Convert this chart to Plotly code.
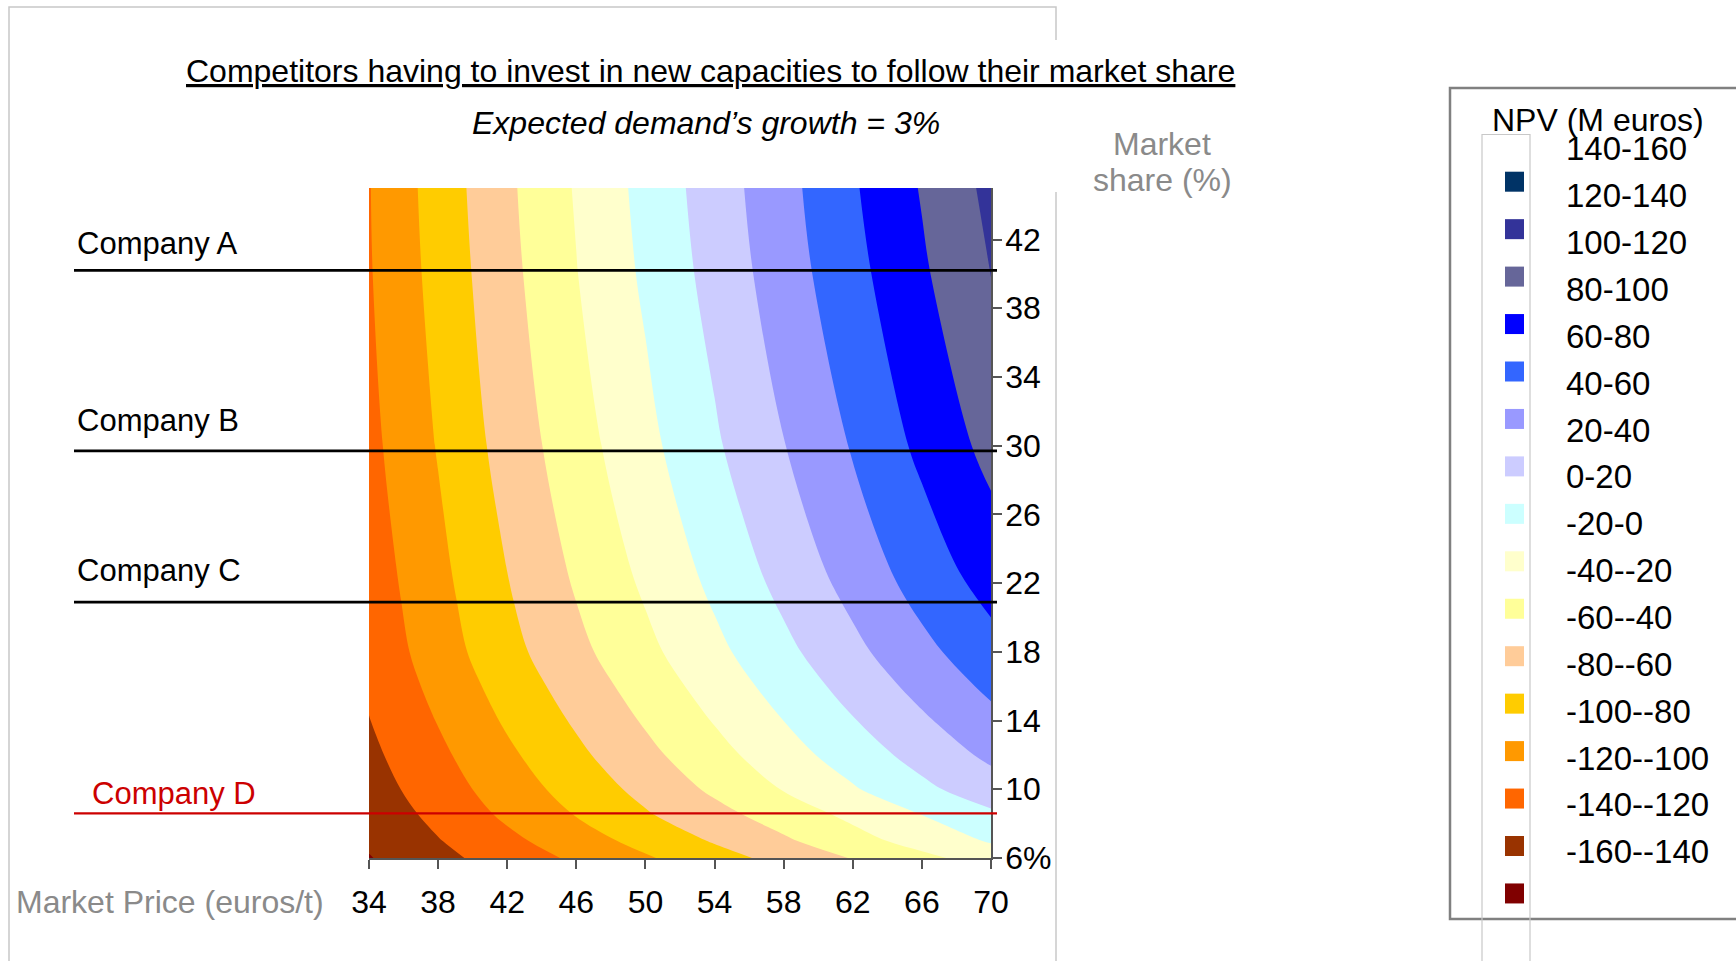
import plotly.graph_objects as go

# Market price (euros/t) along x, market share (%) along y
PRICES = [34, 38, 42, 46, 50, 54, 58, 62, 66, 70]
SHARES = [6, 7, 8.5, 10, 12, 14, 16, 18, 21, 23, 30, 40, 45]

# NPV (M euros) for each market share row, one value per price column
NPV_S06 = [-141.0, -125.5, -111.0, -96.6, -82.2, -67.8, -53.4, -39.0, -25.0, -10.9]
NPV_S07 = [-137.2, -121.0, -104.8, -89.1, -73.6, -58.2, -43.0, -27.3, -12.3, 1.9]
NPV_S085 = [-133.1, -114.8, -96.5, -79.3, -62.1, -46.5, -31.0, -15.5, 0.0, 16.2]
NPV_S10 = [-128.9, -109.5, -90.4, -72.0, -54.2, -36.4, -19.0, -2.0, 15.4, 31.0]
NPV_S12 = [-124.4, -104.2, -83.7, -64.2, -45.2, -26.7, -8.4, 9.7, 27.2, 44.2]
NPV_S14 = [-120.5, -99.1, -77.4, -57.4, -37.9, -18.8, 0.1, 18.9, 37.1, 54.6]
NPV_S16 = [-117.2, -94.3, -71.7, -51.1, -31.2, -11.6, 7.9, 27.3, 46.2, 64.2]
NPV_S18 = [-114.3, -89.9, -66.4, -45.2, -25.0, -5.0, 15.0, 35.0, 54.5, 73.0]
NPV_S21 = [-111.6, -86.6, -62.0, -39.8, -18.9, 2.0, 23.0, 43.7, 64.6, 83.5]
NPV_S23 = [-110.0, -84.6, -59.6, -36.6, -15.2, 6.0, 27.7, 48.9, 70.1, 90.0]
NPV_S30 = [-105.3, -78.8, -52.1, -28.3, -5.6, 17.3, 39.4, 61.6, 84.5, 106.0]
NPV_S40 = [-101.5, -73.3, -45.8, -20.6, 3.3, 26.9, 50.3, 73.7, 97.1, 120.3]
NPV_S45 = [-100.8, -71.3, -43.7, -18.3, 6.1, 29.9, 53.5, 77.7, 101.4, 125.1]

NPV_GRID = [NPV_S06, NPV_S07, NPV_S085, NPV_S10, NPV_S12, NPV_S14, NPV_S16,
            NPV_S18, NPV_S21, NPV_S23, NPV_S30, NPV_S40, NPV_S45]

# Axis ticks
PRICE_TICKS = [34, 38, 42, 46, 50, 54, 58, 62, 66, 70]
SHARE_TICKS = [6, 10, 14, 18, 22, 26, 30, 34, 38, 42]
SHARE_TICK_TEXT = ["6%", "10", "14", "18", "22", "26", "30", "34", "38", "42"]

# NPV bands, top of the legend first
BAND_LABELS = ["140-160", "120-140", "100-120", "80-100", "60-80", "40-60", "20-40",
               "0-20", "-20-0", "-40--20", "-60--40", "-80--60", "-100--80",
               "-120--100", "-140--120", "-160--140"]
BAND_COLORS = ["#003366", "#333399", "#666699", "#0000FF", "#3366FF", "#9999FF",
               "#CCCCFF", "#CCFFFF", "#FFFFCC", "#FFFF99", "#FFCC99", "#FFCC00",
               "#FF9900", "#FF6600", "#993300", "#800000"]

# Competitors and their market share (%)
COMPANIES = ["Company A", "Company B", "Company C", "Company D"]
COMPANY_SHARES = [40.2, 29.7, 20.9, 8.6]
COMPANY_COLORS = ["#000000", "#000000", "#000000", "#CC0000"]
COMPANY_LABEL_LIFT = [27, 30, 32, 20]
COMPANY_LABEL_X = [75, 75, 75, 90]

FONT = "Arial, 'Liberation Sans', sans-serif"
GREY = "#8a8a8a"

# Plot area in pixels
W, H = 1736, 961
L, R, T, B = 369, 991, 188, 858


def px(x):
    return (x - L) / (R - L)


def py(y):
    return (B - y) / (B - T)


# Stepped colour scale: one flat colour per 20 M euros band (-140..140 levels)
low_to_high = BAND_COLORS[::-1]
n_bands = len(low_to_high)
colorscale = []
for k, c in enumerate(low_to_high):
    lo = max(0.0, (k - 0.5) / (n_bands - 1))
    hi = min(1.0, (k + 0.5) / (n_bands - 1))
    colorscale += [[lo, c], [hi, c]]

fig = go.Figure()
fig.add_trace(go.Contour(
    x=PRICES, y=SHARES, z=NPV_GRID,
    autocontour=False,
    contours=dict(start=-140, end=140, size=20, coloring="fill", showlines=False),
    colorscale=colorscale,
    showscale=False,
    line=dict(width=0, smoothing=1.0),
    hoverinfo="skip",
))

shapes = []
annotations = []

# Outer frame
shapes.append(dict(type="path", xref="paper", yref="paper",
                   path=f"M {px(9)},{py(1000)} L {px(9)},{py(7)} L {px(1056)},{py(7)} L {px(1056)},{py(40)}",
                   line=dict(color="#c8c8c8", width=1.5), layer="below"))
shapes.append(dict(type="line", xref="paper", yref="paper",
                   x0=px(1056), x1=px(1056), y0=py(192), y1=py(1000),
                   line=dict(color="#c8c8c8", width=1.5), layer="below"))

# Competitor market-share lines
for name, share, color, lift, lx in zip(COMPANIES, COMPANY_SHARES, COMPANY_COLORS,
                                        COMPANY_LABEL_LIFT, COMPANY_LABEL_X):
    shapes.append(dict(type="line", xref="paper", yref="y",
                       x0=px(74), x1=px(997), y0=share, y1=share,
                       line=dict(color=color, width=2.7 if color == "#000000" else 2.2),
                       layer="above"))
    annotations.append(dict(xref="paper", yref="y", x=px(lx), y=share,
                            xanchor="left", yanchor="middle", yshift=lift,
                            text=name, showarrow=False,
                            font=dict(size=31, color=color, family=FONT)))

# Titles
annotations.append(dict(xref="paper", yref="paper", x=px(710), y=py(71),
                        xanchor="center", yanchor="middle", showarrow=False,
                        text="<u>Competitors having to invest in new capacities to follow their market share</u>",
                        font=dict(size=32, color="black", family=FONT)))
annotations.append(dict(xref="paper", yref="paper", x=px(706), y=py(123),
                        xanchor="center", yanchor="middle", showarrow=False,
                        text="<i>Expected demand’s growth = 3%</i>",
                        font=dict(size=32, color="black", family=FONT)))

# Axis titles
annotations.append(dict(xref="paper", yref="paper", x=px(14), y=py(902),
                        xanchor="left", yanchor="middle", showarrow=False,
                        text="Market Price (euros/t)",
                        font=dict(size=32, color=GREY, family=FONT)))
annotations.append(dict(xref="paper", yref="paper", x=px(1162), y=py(144),
                        xanchor="center", yanchor="middle", showarrow=False,
                        text="Market", font=dict(size=32, color=GREY, family=FONT)))
annotations.append(dict(xref="paper", yref="paper", x=px(1162), y=py(180),
                        xanchor="center", yanchor="middle", showarrow=False,
                        text="share (%)", font=dict(size=32, color=GREY, family=FONT)))

# NPV legend box
shapes.append(dict(type="rect", xref="paper", yref="paper",
                   x0=px(1450), x1=px(1760), y0=py(88), y1=py(919),
                   line=dict(color="#808080", width=2.5), fillcolor="white", layer="below"))
shapes.append(dict(type="rect", xref="paper", yref="paper",
                   x0=px(1482), x1=px(1530), y0=py(134.5), y1=py(1000),
                   line=dict(color="#c8c8c8", width=1.2), layer="above"))
annotations.append(dict(xref="paper", yref="paper", x=px(1490), y=py(120),
                        xanchor="left", yanchor="middle", showarrow=False,
                        text="NPV (M euros)", font=dict(size=32, color="black", family=FONT)))
for i, (lab, col) in enumerate(zip(BAND_LABELS, BAND_COLORS)):
    cy = 181.7 + i * 47.45
    shapes.append(dict(type="rect", xref="paper", yref="paper",
                       x0=px(1505), x1=px(1524), y0=py(cy - 10), y1=py(cy + 10),
                       line=dict(width=0), fillcolor=col, layer="above"))
    ly = 149 + i * 46.85
    annotations.append(dict(xref="paper", yref="paper", x=px(1564), y=py(ly),
                            xanchor="left", yanchor="middle", showarrow=False,
                            text=lab, font=dict(size=33, color="black", family=FONT)))

fig.update_layout(
    width=W, height=H, autosize=False,
    margin=dict(l=L, r=W - R, t=T, b=H - B, pad=0),
    paper_bgcolor="white", plot_bgcolor="white",
    showlegend=False,
    font=dict(family=FONT, size=32, color="black"),
    shapes=shapes, annotations=annotations,
    xaxis=dict(range=[34, 70], tickvals=PRICE_TICKS, ticks="outside", ticklen=9,
               tickwidth=1.5, tickcolor="#555555", showline=True, linecolor="#555555",
               linewidth=1.5, showgrid=False, zeroline=False, ticklabelstandoff=6,
               tickfont=dict(size=32, color="black", family=FONT)),
    yaxis=dict(range=[6, 45], side="right", tickvals=SHARE_TICKS, ticktext=SHARE_TICK_TEXT,
               ticks="outside", ticklen=9, tickwidth=1.5, tickcolor="#555555",
               showline=True, linecolor="#555555", linewidth=1.5, showgrid=False,
               zeroline=False, ticklabelstandoff=-3,
               tickfont=dict(size=32, color="black", family=FONT)),
)

fig.write_html("out.html")
